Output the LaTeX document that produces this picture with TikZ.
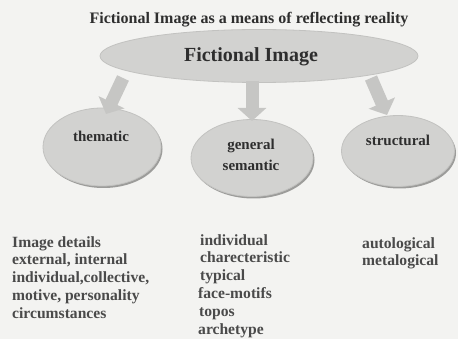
\documentclass[tikz,border=0pt]{standalone}
\usepackage{fontspec}
\setmainfont{Liberation Serif}
\usetikzlibrary{shapes.geometric,arrows.meta}
\definecolor{bg}{HTML}{F3F3F1}
\definecolor{blob}{HTML}{D2D2D0}
\definecolor{blobedge}{HTML}{C2C2C0}
\definecolor{shade}{HTML}{9C9C9A}
\definecolor{arrowfill}{HTML}{C6C6C4}
\definecolor{ink}{HTML}{2E2E2E}
\definecolor{listink}{HTML}{4A4A4A}
\tikzset{
  blobshape/.style={ellipse, fill=blob, draw=blobedge, line width=0.8pt, inner sep=0pt},
  shadowshape/.style={ellipse, fill=shade, inner sep=0pt},
  blobtext/.style={font=\bfseries\fontsize{15}{21}\selectfont, text=ink, align=center, anchor=base},
  fatarrow/.style={line width=13pt, color=arrowfill,
    -{Triangle[width=28pt,length=13pt]}},
  listtext/.style={font=\bfseries\fontsize{15.6}{17.9}\selectfont, text=listink, align=left, anchor=north west, inner sep=0pt},
}
\begin{document}
\begin{tikzpicture}[x=1pt,y=-1pt]
\fill[bg] (0,0) rectangle (458,339);
\useasboundingbox (0,0) rectangle (458,339);
\node[font=\bfseries\fontsize{16}{19}\selectfont, text=ink, anchor=base] (title) at (249,24) {Fictional Image as a means of reflecting reality};
\node[blobshape, minimum width=318pt, minimum height=53pt] (big) at (259,56) {};
\node[font=\bfseries\fontsize{20}{23}\selectfont, text=ink, anchor=base] (bigtext) at (251,62) {Fictional Image};
% shadows of the three small ellipses
\node[shadowshape, minimum width=118pt, minimum height=78pt] (thems) at (103.5,149) {};
\node[shadowshape, minimum width=122pt, minimum height=77pt] (gens) at (253.5,160) {};
\node[shadowshape, minimum width=113pt, minimum height=71pt] (strs) at (399.5,153) {};
\node[blobshape, minimum width=118pt, minimum height=78pt] (them) at (102,147) {};
\node[blobshape, minimum width=122pt, minimum height=77pt] (gen) at (252,158) {};
\node[blobshape, minimum width=113pt, minimum height=71pt] (str) at (398,151) {};
\node[blobtext] (themt) at (101,142) {thematic};
\node[blobtext] (gent) at (251,171) {general\\semantic};
\node[blobtext] (strt) at (398,146) {structural};
\coordinate (a1s) at (123,78);
\coordinate (a2s) at (252,81);
\coordinate (a3s) at (371,78);
\coordinate (a1e) at (106,114);
\coordinate (a2e) at (252,121);
\coordinate (a3e) at (387,115);
\draw[fatarrow] (a1s) -- (a1e);
\draw[fatarrow] (a2s) -- (a2e);
\draw[fatarrow] (a3s) -- (a3e);
\node[listtext] (l1) at (12,236) {Image details\\external, internal\\individual,collective,\\motive, personality\\circumstances};
\node[listtext, text width=110pt] (l2) at (198,234) {\hspace*{2pt}individual\\\hspace*{2pt}charecteristic\\\hspace*{2pt}typical\\face-motifs\\\hspace*{1pt}topos\\archetype};
\node[listtext] (l3) at (362,237) {autological\\metalogical};
\end{tikzpicture}
\end{document}
